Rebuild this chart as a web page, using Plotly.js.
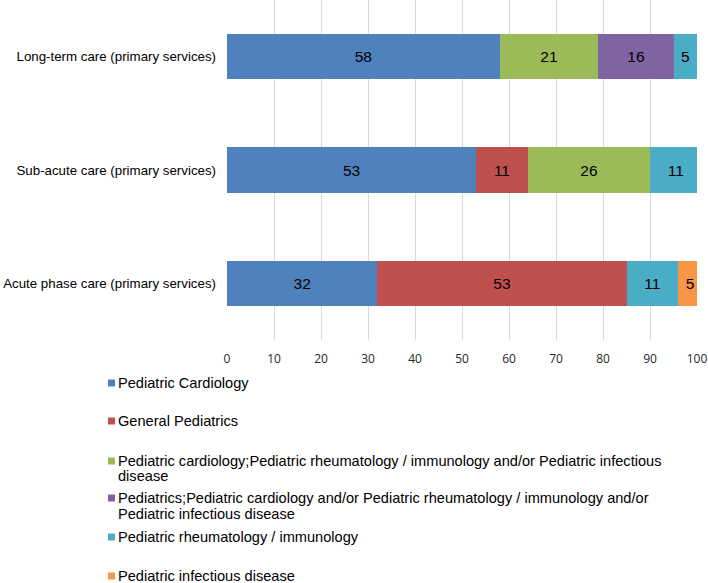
<!DOCTYPE html>
<html>
<head>
<meta charset="utf-8">
<script src="https://cdn.plot.ly/plotly-3.0.1.min.js"></script>
<style>html,body{margin:0;padding:0;background:#fff;}#chart{width:708px;height:583px;}</style>
</head>
<body>
<div id="chart"></div>
<script>
// Categories (bottom to top)
const categories = [
  'Acute phase care (primary services)',
  'Sub-acute care (primary services)',
  'Long-term care (primary services)'
];

// Series names
const seriesNames = [
  'Pediatric Cardiology',
  'General Pediatrics',
  'Pediatric cardiology;Pediatric rheumatology / immunology and/or Pediatric infectious disease',
  'Pediatrics;Pediatric cardiology and/or Pediatric rheumatology / immunology and/or Pediatric infectious disease',
  'Pediatric rheumatology / immunology',
  'Pediatric infectious disease'
];

// Legend display lines (wrapped as in the reference)
const legendLines = [
  ['Pediatric Cardiology'],
  ['General Pediatrics'],
  ['Pediatric cardiology;Pediatric rheumatology / immunology and/or Pediatric infectious', 'disease'],
  ['Pediatrics;Pediatric cardiology and/or Pediatric rheumatology / immunology and/or', 'Pediatric infectious disease'],
  ['Pediatric rheumatology / immunology'],
  ['Pediatric infectious disease']
];

// Series values (percent), same order as categories
const pediatricCardiology   = [32, 53, 58];
const generalPediatrics     = [53, 11, null];
const cardRheumInfectious   = [null, 26, 21];
const pedsCardRheumInf      = [null, null, 16];
const rheumatologyImmunology= [11, 11, 5];
const infectiousDisease     = [5, null, null];

// X axis ticks
const xTicks = [0, 10, 20, 30, 40, 50, 60, 70, 80, 90, 100];

const seriesValues = [pediatricCardiology, generalPediatrics, cardRheumInfectious,
                      pedsCardRheumInf, rheumatologyImmunology, infectiousDisease];
const colors = ['#4F81BD', '#C0504D', '#9BBB59', '#8064A2', '#4BACC6', '#F79646'];

const FONT = '"Liberation Sans", Arial, sans-serif';

const traces = seriesValues.map((vals, i) => ({
  type: 'bar',
  orientation: 'h',
  name: seriesNames[i],
  y: categories,
  x: vals,
  marker: { color: colors[i], line: { width: 0 } },
  text: vals.map(v => v == null ? '' : String(v)),
  texttemplate: '%{text}',
  textposition: 'inside',
  insidetextanchor: 'middle',
  insidetextfont: { family: FONT, size: 15.5, color: '#000000' },
  constraintext: 'none',
  hoverinfo: 'x+name',
  showlegend: false
}));

// Layout geometry
const W = 708, H = 583;
const mL = 227, mR = 11, mT = 0, mB = 243;
const plotH = H - mT - mB;
const pyToPaper = py => (H - mB - py) / plotH;

// Custom legend (Excel style)
const legendFirstLineY = [383, 421, 461, 498, 537, 576];
const lineStep = 15.5;
const annotations = [];
const shapes = [];
legendLines.forEach((lines, i) => {
  const y0 = legendFirstLineY[i];
  shapes.push({
    type: 'rect', xref: 'paper', yref: 'paper',
    xsizemode: 'pixel', ysizemode: 'pixel',
    xanchor: (108 - mL) / (W - mL - mR), yanchor: pyToPaper(y0),
    x0: 0, x1: 7, y0: -3.5, y1: 3.5,
    fillcolor: colors[i], line: { width: 0 }
  });
  lines.forEach((ln, j) => {
    annotations.push({
      xref: 'paper', yref: 'paper',
      x: (117 - mL) / (W - mL - mR), y: pyToPaper(y0 + j * lineStep),
      xanchor: 'left', yanchor: 'middle',
      text: ln, showarrow: false,
      font: { family: FONT, size: 14.6, color: '#000000' },
      borderpad: 0
    });
  });
});

const layout = {
  width: W, height: H,
  margin: { l: mL, r: mR, t: mT, b: mB, pad: 0 },
  barmode: 'stack',
  bargap: 0.6,
  paper_bgcolor: '#ffffff',
  plot_bgcolor: '#ffffff',
  showlegend: false,
  xaxis: {
    range: [0, 100],
    tickvals: xTicks,
    ticktext: xTicks.map(String),
    showgrid: true,
    gridcolor: '#D9D9D9',
    gridwidth: 1,
    zeroline: false,
    showline: false,
    ticks: '',
    tickfont: { family: '"Open Sans", sans-serif', size: 12, color: '#262626' },
    ticklabelstandoff: 10,
    fixedrange: true
  },
  yaxis: {
    type: 'category',
    categoryorder: 'array',
    categoryarray: categories,
    showgrid: false,
    zeroline: false,
    showline: false,
    ticks: '',
    tickfont: { family: FONT, size: 13.3, color: '#000000' },
    ticklabelstandoff: 10,
    fixedrange: true
  },
  annotations: annotations,
  shapes: shapes
};

Plotly.newPlot('chart', traces, layout, { displayModeBar: false, staticPlot: true });
</script>
</body>
</html>
